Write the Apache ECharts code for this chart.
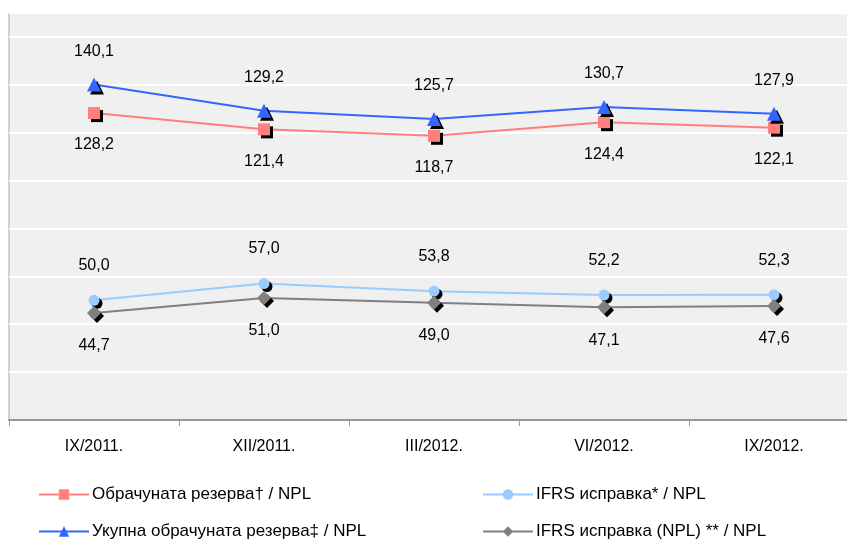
<!DOCTYPE html>
<html><head><meta charset="utf-8">
<script src="https://cdn.jsdelivr.net/npm/echarts@6/dist/echarts.min.js"></script>
<style>html,body{margin:0;padding:0;background:#fff}#c{width:847px;height:540px}</style>
</head><body><div id="c"></div>
<script>
const categories = ['IX/2011.', 'XII/2011.', 'III/2012.', 'VI/2012.', 'IX/2012.'];
const seriesNames = ['Обрачуната резерва† / NPL', 'IFRS исправка* / NPL', 'Укупна обрачуната резерва‡ / NPL', 'IFRS исправка (NPL) ** / NPL'];
const reserveNpl = [128.2, 121.4, 118.7, 124.4, 122.1];
const ifrsNpl = [50.0, 57.0, 53.8, 52.2, 52.3];
const totalReserveNpl = [140.1, 129.2, 125.7, 130.7, 127.9];
const ifrsNplNpl = [44.7, 51.0, 49.0, 47.1, 47.6];

const fmt = p => p.value.toFixed(1).replace('.', ',');
const font = 'Liberation Sans, Arial, sans-serif';
function mk(name, data, color, symbol, size, pos, dist) {
  return {
    name, type: 'line', data, symbol, symbolSize: size,
    lineStyle: { color, width: 2 },
    itemStyle: { color, shadowColor: '#000', shadowOffsetX: 3, shadowOffsetY: 3, shadowBlur: 0 },
    label: { show: true, position: pos, distance: dist, formatter: fmt, color: '#000', fontSize: 16, fontFamily: font },
    emphasis: { disabled: true }, animation: false
  };
}
function lg(name, left, top) {
  return { data: [name], orient: 'horizontal', left, top, padding: 0, itemWidth: 50, itemHeight: 13, itemGap: 0,
    textStyle: { fontSize: 17, fontFamily: font, color: '#000', padding: [0, 0, 0, -2] }, selectedMode: false,
    itemStyle: { shadowColor: 'transparent' } };
}
const chart = echarts.init(document.getElementById('c'));
chart.setOption({
  animation: false,
  grid: { left: 9, top: 13, width: 850, height: 407, outerBoundsMode: 'none', containLabel: false, show: true, backgroundColor: '#f0f0f0', borderColor: '#a6a6a6', borderWidth: 1 },
  xAxis: {
    type: 'category', data: categories, boundaryGap: true,
    axisLine: { lineStyle: { color: '#999', width: 2 } },
    axisTick: { show: true, length: 6, lineStyle: { color: '#999' } },
    axisLabel: { color: '#000', fontSize: 16, fontFamily: font, margin: 19 }
  },
  yAxis: {
    type: 'value', min: 0, max: 170, interval: 20,
    axisLabel: { show: false }, axisLine: { show: false }, axisTick: { show: false },
    splitLine: { lineStyle: { color: '#fff', width: 2 } }
  },
  legend: [
    lg(seriesNames[0], 38, 486),
    lg(seriesNames[2], 38, 523),
    lg(seriesNames[1], 482, 486),
    lg(seriesNames[3], 482, 523)
  ],
  series: [
    mk(seriesNames[0], reserveNpl, '#ff7f7f', 'rect', 12, 'bottom', 18),
    mk(seriesNames[1], ifrsNpl, '#99ccff', 'circle', 11, 'top', 21),
    mk(seriesNames[2], totalReserveNpl, '#3366ff', 'triangle', 14, 'top', 18),
    mk(seriesNames[3], ifrsNplNpl, '#808080', 'diamond', 14, 'bottom', 18)
  ]
});
</script></body></html>
